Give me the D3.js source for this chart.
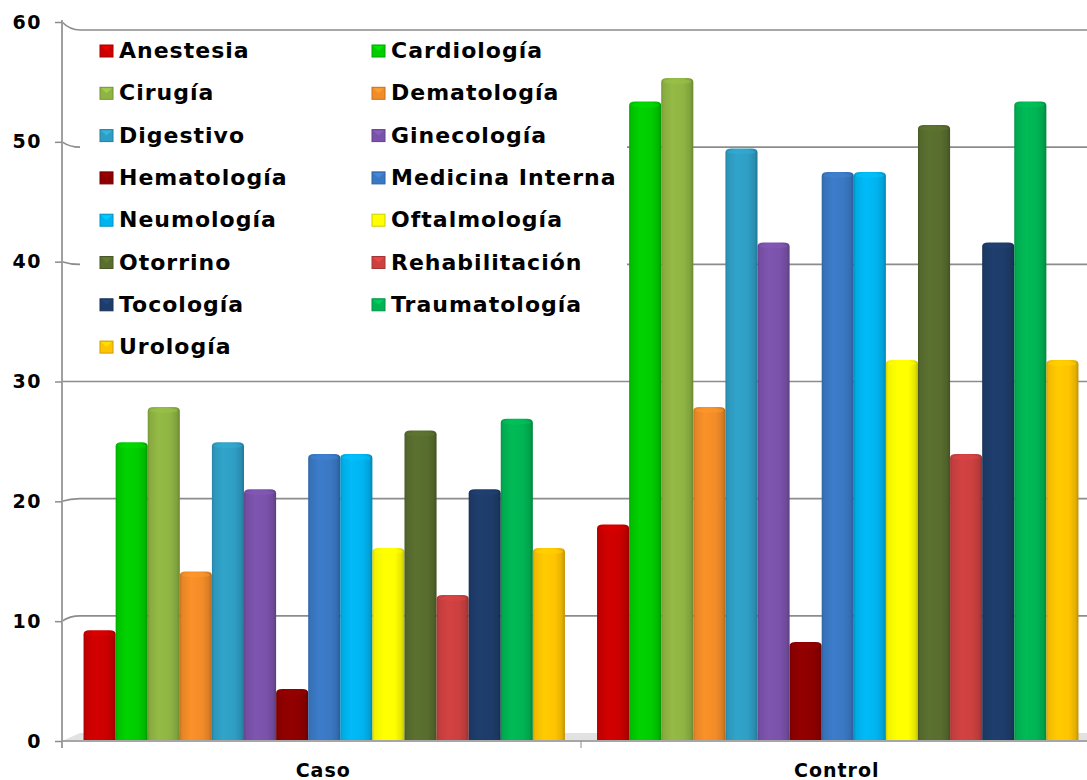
<!DOCTYPE html>
<html>
<head>
<meta charset="utf-8">
<script src="https://cdn.jsdelivr.net/npm/d3@7"></script>
<style>
  html, body { margin: 0; padding: 0; background: #fff; }
  svg { display: block; }
  text { font-family: "DejaVu Sans", Verdana, sans-serif; font-weight: bold; fill: #000; }
</style>
</head>
<body>
<svg id="chart" width="1087" height="780"></svg>
<script>
const groups = ["Caso", "Control"];
const categories = ["Anestesia", "Cardiología", "Cirugía", "Dematología", "Digestivo", "Ginecología",
  "Hematología", "Medicina Interna", "Neumología", "Oftalmología", "Otorrino", "Rehabilitación",
  "Tocología", "Traumatología", "Urología"];
const casoValues    = [9, 25, 28, 14, 25, 21, 4, 24, 24, 16, 26, 12, 21, 27, 16];
const controlValues = [18, 54, 56, 28, 50, 42, 8, 48, 48, 32, 52, 24, 42, 54, 32];
const colors = ["#cc0000", "#00cc00", "#8fb443", "#f28c28", "#2f9ec4", "#7a52aa", "#8e0000",
  "#3a78c3", "#00b4f0", "#ffff00", "#586d2e", "#cc4040", "#1e3c6a", "#00b454", "#ffc400"];
const yTicks = [0, 10, 20, 30, 40, 50, 60];

const seriesByGroup = { "Caso": casoValues, "Control": controlValues };

const svg = d3.select("#chart");
const W = 1087;
const axisX = 62, backX = 80;

// scales
const yFront = d3.scaleLinear().domain([0, 60]).range([741, 22]);
const yBack  = d3.scaleLinear().domain([0, 60]).range([733, 30]);
const yBar   = d3.scaleLinear().domain([0, 60]).range([736, 31]);
const x0 = d3.scaleBand().domain(groups).range([67.5, 1094.5]).padding(0);
const x1 = d3.scaleBand().domain(categories).range([0, x0.bandwidth()]).paddingInner(0).paddingOuter(0.5);

// defs: gradients
const defs = svg.append("defs");
colors.forEach((c, i) => {
  const base = d3.color(c);
  const g = defs.append("linearGradient").attr("id", "g" + i)
    .attr("x1", "0%").attr("x2", "100%").attr("y1", "0%").attr("y2", "0%");
  const stops = [
    [0, base.darker(0.55)], [0.07, base.darker(0.15)], [0.35, base.brighter(0.1)],
    [0.7, base], [0.9, base.darker(0.3)], [1, base.darker(0.8)]
  ];
  stops.forEach(([o, col]) => g.append("stop").attr("offset", o).attr("stop-color", col.formatHex()));
});

// floor
svg.append("path")
  .attr("d", `M${axisX},741 L${backX},733 L${W},733 L${W},741 Z`)
  .attr("fill", "#e2e2e2");

// gridlines
const grid = svg.append("g");
yTicks.forEach(t => {
  if (t === 0) return;
  grid.append("path")
    .attr("d", `M${axisX},${yFront(t)} Q${axisX + 8},${yBack(t)} ${backX},${yBack(t)} L${W},${yBack(t)}`)
    .attr("fill", "none").attr("stroke", "#8c8c8c").attr("stroke-width", 1.6);
});

// legend background
svg.append("rect").attr("x", 80).attr("y", 31).attr("width", 547).attr("height", 336).attr("fill", "#fff");

// bars
const barG = svg.append("g");
groups.forEach(gName => {
  const vals = seriesByGroup[gName];
  categories.forEach((cat, i) => {
    const x = x0(gName) + x1(cat);
    const w = x1.bandwidth();
    const top = yBar(vals[i]);
    const bottom = 740;
    const r = 6, ry = 4;
    const d = `M${x},${bottom} L${x},${top + ry} Q${x},${top} ${x + r},${top} L${x + w - r},${top} Q${x + w},${top} ${x + w},${top + ry} L${x + w},${bottom} Z`;
    barG.append("path").attr("d", d).attr("fill", `url(#g${i})`);
    barG.append("ellipse")
      .attr("cx", x + w / 2).attr("cy", top + 3.5).attr("rx", w / 2 - 2).attr("ry", 2.5)
      .attr("fill", d3.color(colors[i]).brighter(0.25).formatHex()).attr("opacity", 0.5);
  });
});

// bottom axis line
svg.append("line").attr("x1", axisX).attr("x2", W).attr("y1", 741).attr("y2", 741)
  .attr("stroke", "#a6a6a6").attr("stroke-width", 2);
// category divider tick
svg.append("line").attr("x1", x0(groups[1])).attr("x2", x0(groups[1])).attr("y1", 741).attr("y2", 748)
  .attr("stroke", "#8c8c8c").attr("stroke-width", 1);

// left axis
svg.append("line").attr("x1", axisX).attr("x2", axisX).attr("y1", yFront(60) - 2).attr("y2", 748)
  .attr("stroke", "#a0a0a0").attr("stroke-width", 2);
const yAxis = d3.axisLeft(yFront).tickValues(yTicks).tickSize(7).tickPadding(13).tickFormat(d3.format("d"));
const ya = svg.append("g").attr("transform", `translate(${axisX},0)`).call(yAxis);
ya.select(".domain").remove();
ya.selectAll(".tick line").attr("stroke", "#8c8c8c").attr("stroke-width", 1.5);
ya.selectAll(".tick text").attr("font-size", 19).attr("letter-spacing", 1.5)
  .attr("font-family", "DejaVu Sans").attr("font-weight", "bold").attr("fill", "#000");

// category labels
groups.forEach(gName => {
  svg.append("text").attr("x", x0(gName) + x0.bandwidth() / 2 - 1).attr("y", 777)
    .attr("text-anchor", "middle").attr("font-size", 19).attr("letter-spacing", 1)
    .text(gName);
});

// legend
const legend = svg.append("g");
const colX = [100, 372];
const rowY0 = 58, rowStep = 42.3;
categories.forEach((cat, i) => {
  const col = i % 2, row = Math.floor(i / 2);
  const by = rowY0 + row * rowStep;
  const c = d3.color(colors[i]);
  legend.append("rect").attr("x", colX[col]).attr("y", by - 13).attr("width", 13).attr("height", 12)
    .attr("fill", c.formatHex()).attr("stroke", c.darker(0.6).formatHex()).attr("stroke-width", 1);
  legend.append("path")
    .attr("d", `M${colX[col] + 1},${by - 12} L${colX[col] + 6.5},${by - 7} L${colX[col] + 12},${by - 12} Z`)
    .attr("fill", c.brighter(0.5).formatHex()).attr("opacity", 0.7);
  legend.append("text").attr("x", colX[col] + 19).attr("y", by)
    .attr("font-size", 22).attr("letter-spacing", 1).text(cat);
});
</script>
</body>
</html>
